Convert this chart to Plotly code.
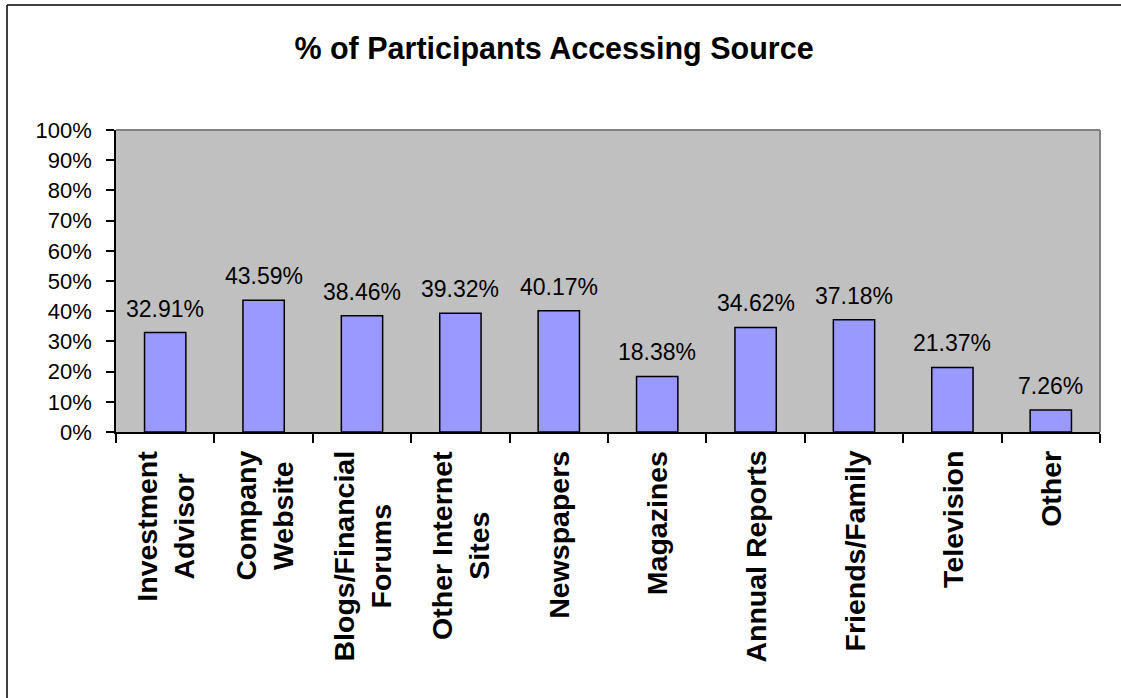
import plotly.graph_objects as go

categories = ["Investment Advisor", "Company Website", "Blogs/Financial Forums",
              "Other Internet Sites", "Newspapers", "Magazines", "Annual Reports",
              "Friends/Family", "Television", "Other"]
category_labels = ["Investment<br>Advisor", "Company<br>Website", "Blogs/Financial<br>Forums",
                   "Other Internet<br>Sites", "Newspapers", "Magazines", "Annual Reports",
                   "Friends/Family", "Television", "Other"]
values_pct = [32.91, 43.59, 38.46, 39.32, 40.17, 18.38, 34.62, 37.18, 21.37, 7.26]
y_ticks = [0, 10, 20, 30, 40, 50, 60, 70, 80, 90, 100]
title_text = "% of Participants Accessing Source"

FONT = "Arial, Liberation Sans, sans-serif"

fig = go.Figure(go.Bar(
    x=categories,
    y=[v / 100 for v in values_pct],
    marker=dict(color="#9999FF", line=dict(color="black", width=1.5)),
    width=0.42,
    hoverinfo="skip",
))

L, R, T, B = 116, 1100, 130, 432
W, H = 1121, 698
pw, ph = R - L, B - T

def px(x):
    return (x - L) / pw

def py(y):
    return (B - y) / ph

annotations = []
# value labels above the bars
for c, v in zip(categories, values_pct):
    annotations.append(dict(
        x=c, y=v / 100, xref="x", yref="y", text=f"{v:.2f}%",
        showarrow=False, xanchor="center", yanchor="bottom", yshift=9,
        font=dict(family=FONT, size=23, color="black"),
    ))
# rotated category labels
for c, lab in zip(categories, category_labels):
    annotations.append(dict(
        x=c, y=py(449), xref="x", yref="paper", text="<b>" + lab + "</b>",
        showarrow=False, xanchor="center", yanchor="top", textangle=-90,
        align="center",
        font=dict(family=FONT, size=28.5, color="black"),
    ))

fig.update_layout(
    width=W, height=H,
    margin=dict(l=L, r=W - R, t=T, b=H - B, pad=0),
    paper_bgcolor="white",
    plot_bgcolor="#C0C0C0",
    showlegend=False,
    font=dict(family=FONT, color="black"),
    title=dict(text="<b>" + title_text + "</b>", x=554 / W, xref="container", xanchor="center",
               y=1 - 48 / H, yref="container", yanchor="middle",
               font=dict(family=FONT, size=30.5, color="black")),
    xaxis=dict(
        type="category",
        tickson="boundaries",
        ticks="outside", ticklen=9, tickcolor="black", tickwidth=1.5,
        showline=True, linecolor="black", linewidth=1.5,
        showticklabels=False,
        showgrid=False,
        range=[-0.5, 9.5],
    ),
    yaxis=dict(
        range=[0, 1],
        tickvals=[t / 100 for t in y_ticks],
        ticktext=[f"{t}%" for t in y_ticks],
        ticks="outside", ticklen=8, tickcolor="black", tickwidth=1.5,
        showline=True, linecolor="black", linewidth=1.5,
        showgrid=False, zeroline=False,
        tickfont=dict(family=FONT, size=22, color="black"),
        ticklabelstandoff=10,
    ),
    annotations=annotations,
    shapes=[
        dict(type="line", xref="paper", yref="paper", x0=0, x1=1, y0=1, y1=1,
             line=dict(color="#808080", width=2), layer="above"),
        dict(type="line", xref="paper", yref="paper", x0=1, x1=1, y0=0, y1=1,
             line=dict(color="#808080", width=2), layer="above"),
        dict(type="line", xref="paper", yref="paper", x0=px(7), x1=px(7), y0=py(5), y1=py(H + 10),
             line=dict(color="black", width=1.5), layer="above"),
        dict(type="line", xref="paper", yref="paper", x0=px(7), x1=px(W + 10), y0=py(5), y1=py(5),
             line=dict(color="black", width=1.5), layer="above"),
    ],
)

fig.write_html("out.html", config={"displayModeBar": False},
               post_script="document.body.style.margin='0';document.body.style.overflow='hidden';")
